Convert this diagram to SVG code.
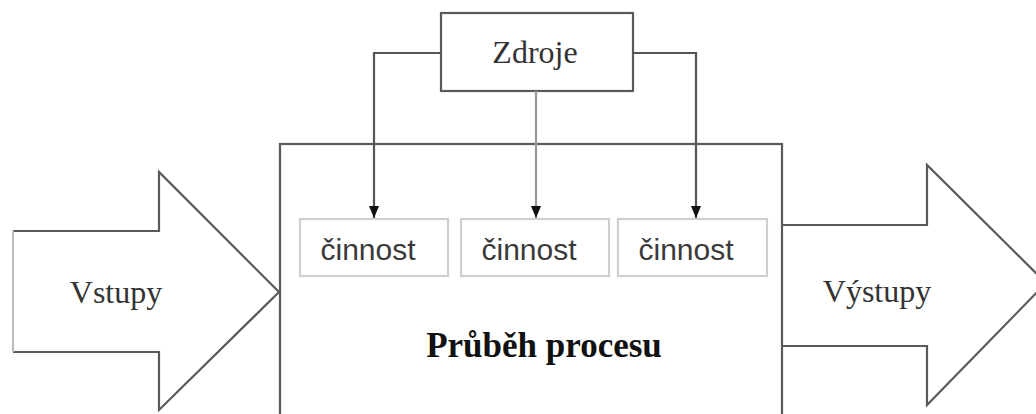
<svg xmlns="http://www.w3.org/2000/svg" width="1036" height="414" viewBox="0 0 1036 414">
<style>
.shape{fill:#fff;stroke:#5a5a5a;stroke-width:2.2}
.act{fill:#fff;stroke:#cfcfcf;stroke-width:2.2}
.serif{font-family:"Liberation Serif","Times New Roman",serif;fill:#333}
.sans{font-family:"Liberation Sans",Arial,sans-serif;fill:#3a3a3a}
.conn{fill:none;stroke:#555;stroke-width:2.2}
</style>
<defs>
<marker id="ah" markerWidth="12" markerHeight="10" refX="12" refY="5" orient="auto" markerUnits="userSpaceOnUse" viewBox="0 0 12 10">
<path d="M0,0 L12,5 L0,10 Z" fill="#111"/>
</marker>
</defs>
<rect width="1036" height="414" fill="#fff"/>
<g id="vstupy">
<path class="shape" d="M13,231 L159,231 L159,172 L279,292 L159,410 L159,352 L13,352"/>
<line x1="13" y1="231" x2="13" y2="352" stroke="#bdbdbd" stroke-width="2.2"/>
<text class="serif" x="116" y="303" font-size="32" text-anchor="middle">Vstupy</text>
</g>
<g id="vystupy">
<path class="shape" d="M782,225 L927,225 L927,165 L1046,283 L927,405 L927,346 L782,346"/>
<text class="serif" x="877" y="302" font-size="32" text-anchor="middle">Výstupy</text>
</g>
<g id="prubeh">
<rect class="shape" x="280" y="144" width="502" height="290"/>
<text class="serif" x="544" y="357" font-size="35" font-weight="bold" text-anchor="middle" style="fill:#111">Průběh procesu</text>
</g>
<g id="zdroje">
<rect class="shape" x="441" y="13" width="192" height="78"/>
<text class="serif" x="535" y="63" font-size="32" text-anchor="middle">Zdroje</text>
</g>
<g id="cinnost1">
<rect class="act" x="300" y="219" width="148" height="57"/>
<text class="sans" x="368" y="260" font-size="30" text-anchor="middle">činnost</text>
</g>
<g id="cinnost2">
<rect class="act" x="461" y="219" width="148" height="57"/>
<text class="sans" x="529" y="260" font-size="30" text-anchor="middle">činnost</text>
</g>
<g id="cinnost3">
<rect class="act" x="618" y="219" width="149" height="57"/>
<text class="sans" x="686" y="260" font-size="30" text-anchor="middle">činnost</text>
</g>
<g id="connectors">
<path class="conn" d="M441,53 L374,53 L374,218" marker-end="url(#ah)"/>
<path class="conn" d="M536,91 L536,218" marker-end="url(#ah)" style="stroke:#999"/>
<path class="conn" d="M633,53 L696,53 L696,218" marker-end="url(#ah)"/>
</g>
</svg>
